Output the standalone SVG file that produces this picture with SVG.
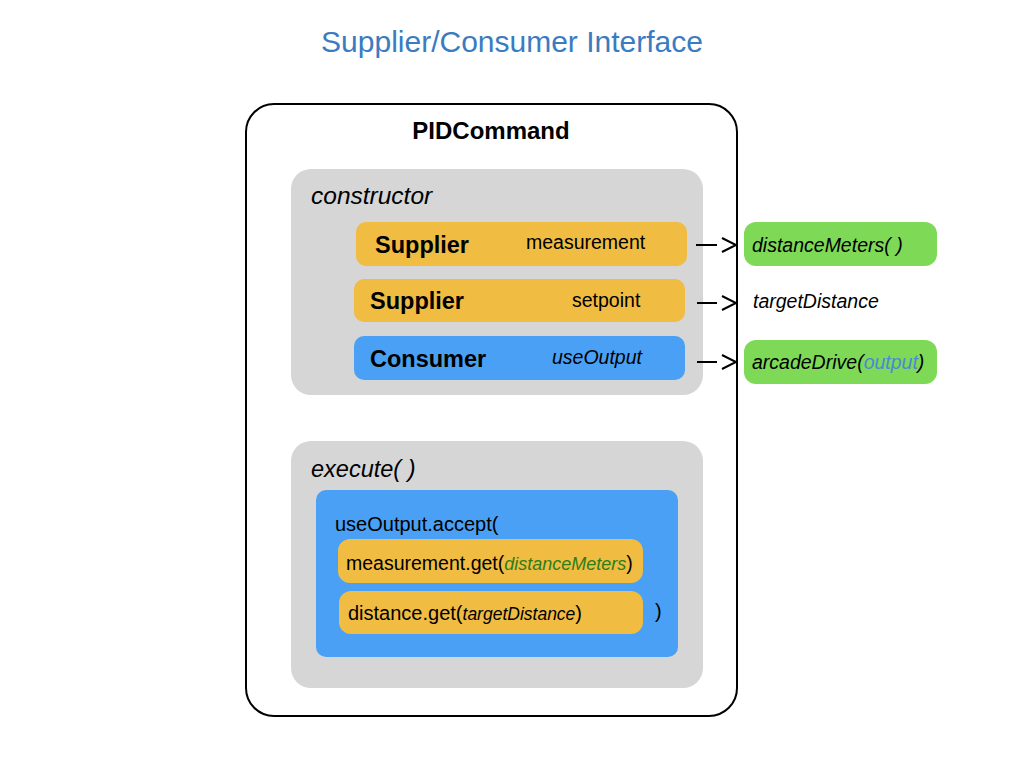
<svg xmlns="http://www.w3.org/2000/svg" width="1024" height="768" viewBox="0 0 1024 768">
<style>
text{font-family:"Liberation Sans",Arial,Helvetica,sans-serif;fill:#000}
.gray{fill:#d6d6d6}
.yel{fill:#f0bc42}
.blue{fill:#4aa0f5}
.green{fill:#7ed957}
.b{font-weight:bold}
.i{font-style:italic}
.conn{stroke:#000;stroke-width:2;fill:none}
</style>
<rect width="1024" height="768" fill="#fff"/>
<text x="512" y="52" font-size="30" text-anchor="middle" style="fill:#3a7bc1">Supplier/Consumer Interface</text>
<g id="pidcommand">
<rect x="246" y="104" width="491" height="612" rx="28" fill="#fff" stroke="#000" stroke-width="2"/>
<text x="491" y="139" font-size="24" class="b" text-anchor="middle">PIDCommand</text>
</g>
<g id="constructor">
<rect x="291" y="169" width="412" height="226" rx="20" class="gray"/>
<text x="311" y="204" font-size="24.5" class="i">constructor</text>
</g>
<g id="supplier-measurement">
<rect x="356" y="222" width="331" height="44" rx="10" class="yel"/>
<text x="375" y="253" font-size="23.5" class="b">Supplier</text>
<text x="526" y="249" font-size="19.5">measurement</text>
</g>
<g id="supplier-setpoint">
<rect x="354" y="279" width="331" height="43" rx="10" class="yel"/>
<text x="370" y="309" font-size="23.5" class="b">Supplier</text>
<text x="572" y="307" font-size="19.5">setpoint</text>
</g>
<g id="consumer-useoutput">
<rect x="354" y="336" width="331" height="44" rx="10" class="blue"/>
<text x="370" y="367" font-size="23.5" class="b">Consumer</text>
<text x="552" y="364" font-size="19.5" class="i">useOutput</text>
</g>
<g id="distanceMeters">
<rect x="744" y="222" width="193" height="44" rx="12" class="green"/>
<text x="752" y="252" font-size="19.5" class="i">distanceMeters( )</text>
</g>
<g id="targetDistance">
<text x="753" y="308" font-size="19.5" class="i">targetDistance</text>
</g>
<g id="arcadeDrive">
<rect x="744" y="340" width="193" height="44" rx="12" class="green"/>
<text x="752" y="369" font-size="19.5" class="i">arcadeDrive(<tspan style="fill:#4a88d8">output</tspan>)</text>
</g>
<g id="connectors">
<line x1="696" y1="245" x2="717" y2="245" class="conn"/>
<polyline points="722,238 736,245 722,252" class="conn"/>
<line x1="697" y1="303" x2="717" y2="303" class="conn"/>
<polyline points="722,296 736,303 722,310" class="conn"/>
<line x1="697" y1="362" x2="717" y2="362" class="conn"/>
<polyline points="722,355 736,362 722,369" class="conn"/>
</g>
<g id="execute">
<rect x="291" y="441" width="412" height="247" rx="20" class="gray"/>
<text x="311" y="477" font-size="23.5" class="i">execute( )</text>
</g>
<g id="accept">
<rect x="316" y="490" width="362" height="167" rx="10" class="blue"/>
<text x="335" y="531" font-size="20">useOutput.accept(</text>
<text x="655" y="618" font-size="20">)</text>
</g>
<g id="measurement-get">
<rect x="338" y="539" width="305" height="44" rx="12" class="yel"/>
<text x="346" y="570" font-size="19.5">measurement.get(<tspan class="i" font-size="18" style="fill:#2d7d1a">distanceMeters</tspan>)</text>
</g>
<g id="distance-get">
<rect x="339" y="591" width="304" height="43" rx="12" class="yel"/>
<text x="348" y="620" font-size="20">distance.get(<tspan class="i" font-size="17.5">targetDistance</tspan>)</text>
</g>
</svg>
